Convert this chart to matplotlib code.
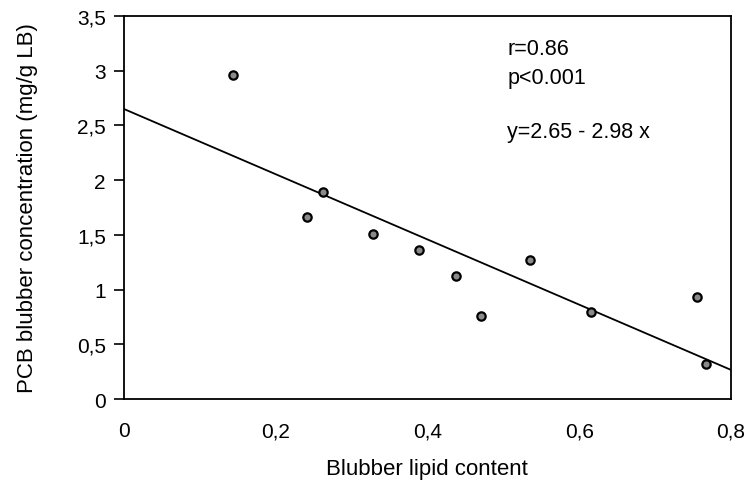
import matplotlib
matplotlib.use("Agg")
import matplotlib.pyplot as plt
import numpy as np

plt.rcParams['font.family'] = ['Liberation Sans', 'DejaVu Sans']

# blubber lipid content vs PCB blubber concentration (mg/g LB)
lipid = [0.143, 0.241, 0.262, 0.328, 0.389, 0.438, 0.470, 0.535, 0.615, 0.755, 0.767]
pcb = [2.96, 1.66, 1.89, 1.51, 1.36, 1.12, 0.756, 1.27, 0.795, 0.932, 0.317]

intercept = 2.65
slope = -2.98

xticks = [0, 0.2, 0.4, 0.6, 0.8]
xlabels = ['0', '0,2', '0,4', '0,6', '0,8']
yticks = [0, 0.5, 1, 1.5, 2, 2.5, 3, 3.5]
ylabels = ['0', '0,5', '1', '1,5', '2', '2,5', '3', '3,5']

fig = plt.figure(figsize=(7.48, 4.81), dpi=100)
ax = fig.add_axes([124/748, 1-400/481, (731-124)/748, (400-17)/481])

xl = np.array([0, 0.8])
ax.plot(xl, intercept + slope*xl, color='black', lw=1.3)
ax.scatter(lipid, pcb, s=36, facecolor='#8a8a8a', edgecolor='black', linewidths=1.6, zorder=3)

ax.set_xlim(0, 0.8)
ax.set_ylim(0, 3.5)
ax.set_xticks(xticks)
ax.set_xticklabels(xlabels, fontsize=15)
ax.set_yticks(yticks)
ax.set_yticklabels(ylabels, fontsize=15)
ax.tick_params(axis='x', length=0, pad=16)
ax.tick_params(axis='y', length=7, width=1.2, direction='out', pad=6)
for s in ax.spines.values():
    s.set_linewidth(1.3)

fig.text(427/748, 1-470/481, 'Blubber lipid content', fontsize=16, ha='center', va='center')
fig.text(28/748, 1-208/481, 'PCB blubber concentration (mg/g LB)', fontsize=16,
         ha='center', va='center', rotation=90)

ax.text(0.505, 3.20, 'r=0.86', fontsize=15.5, va='center')
ax.text(0.505, 2.94, 'p<0.001', fontsize=15.5, va='center')
ax.text(0.505, 2.44, 'y=2.65 - 2.98 x', fontsize=15.5, va='center')

fig.savefig('out.png', dpi=100)
